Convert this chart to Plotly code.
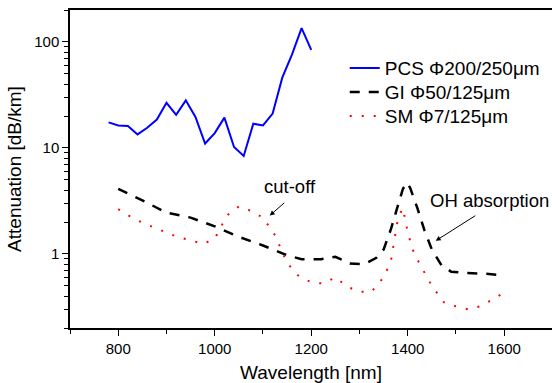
import math
import plotly.graph_objects as go

# ---- data ----
pcs_wl = [780, 800, 820, 840, 860, 880, 900, 920, 940, 960, 980, 1000, 1020, 1040,
          1060, 1080, 1100, 1120, 1140, 1160, 1180, 1200]
pcs_att = [17.4, 16.3, 16.1, 13.4, 15.5, 18.5, 26.6, 20.5, 28.1, 19.6, 11.0, 13.8, 19.3,
           10.2, 8.4, 16.9, 16.3, 21.1, 46, 76, 135, 84]

gi_wl = [800, 850, 900, 950, 1000, 1050, 1100, 1150, 1180, 1220, 1250, 1280, 1310, 1335,
         1350, 1365, 1380, 1390, 1398, 1405, 1420, 1435, 1450, 1470, 1490, 1520, 1560, 1592]
gi_att = [4.1, 3.2, 2.45, 2.2, 1.82, 1.45, 1.2, 0.97, 0.89, 0.89, 0.94, 0.81, 0.80, 0.92,
          1.1, 1.7, 2.9, 4.1, 4.7, 4.2, 2.7, 1.65, 1.1, 0.78, 0.68, 0.66, 0.65, 0.63]

sm_wl = [800, 825, 850, 875, 900, 925, 950, 975, 1000, 1025, 1050, 1075, 1100, 1125, 1150,
         1175, 1200, 1225, 1250, 1275, 1300, 1325, 1350, 1365, 1380, 1390, 1400, 1410, 1425,
         1450, 1475, 1500, 1525, 1550, 1575, 1600]
sm_att = [2.64, 2.25, 1.97, 1.77, 1.59, 1.43, 1.35, 1.24, 1.39, 2.3, 2.8, 2.55, 2.2, 1.5, 0.82,
          0.61, 0.54, 0.525, 0.60, 0.49, 0.44, 0.44, 0.6, 0.85, 2.2, 2.7, 1.6, 1.1, 0.8,
          0.5, 0.35, 0.32, 0.30, 0.32, 0.37, 0.43]

names = ["PCS \u03a6200/250\u03bcm", "GI \u03a650/125\u03bcm", "SM \u03a67/125\u03bcm"]

x_ticks = [800, 1000, 1200, 1400, 1600]
y_ticks = [1, 10, 100]
y_minor = [0.2, 0.3, 0.4, 0.5, 0.6, 0.7, 0.8, 0.9,
           2, 3, 4, 5, 6, 7, 8, 9,
           20, 30, 40, 50, 60, 70, 80, 90, 200]

# annotation anchors (wavelength, attenuation)
cutoff_text = (1156, 4.3)
cutoff_tip = (1114, 2.3)
oh_text = (1570, 3.16)
oh_tip = (1458, 1.33)

FONT = "Arial, Liberation Sans, sans-serif"

fig = go.Figure()
fig.add_trace(go.Scatter(x=pcs_wl, y=pcs_att, mode="lines", name=names[0], legend="legend",
                         line=dict(color="#0000ff", width=2)))
fig.add_trace(go.Scatter(x=gi_wl, y=gi_att, mode="lines", name=names[1], legend="legend2",
                         line=dict(color="black", width=2.5, dash="10px,9px")))
fig.add_trace(go.Scatter(x=sm_wl, y=sm_att, mode="lines", name=names[2], legend="legend3",
                         line=dict(color="#ff0000", width=2, dash="2px,10px")))

# annotations (log axis: y in log10 units)
fig.add_annotation(x=cutoff_text[0], y=math.log10(cutoff_text[1]), text="cut-off",
                   showarrow=False, font=dict(size=18.5, color="black", family=FONT))
fig.add_annotation(x=cutoff_tip[0], y=math.log10(cutoff_tip[1]), text="", showarrow=True,
                   ax=16, ay=-14, arrowhead=2, arrowsize=1, arrowwidth=1, arrowcolor="black")
fig.add_annotation(x=oh_text[0], y=math.log10(oh_text[1]), text="OH absorption",
                   showarrow=False, font=dict(size=18.5, color="black", family=FONT))
fig.add_annotation(x=oh_tip[0], y=math.log10(oh_tip[1]), text="", showarrow=True,
                   ax=41, ay=-26, arrowhead=2, arrowsize=1, arrowwidth=1, arrowcolor="black")

legend_style = dict(x=0.570, xanchor="left", yanchor="middle",
                    font=dict(size=19, family=FONT), bgcolor="rgba(0,0,0,0)")

fig.update_layout(
    width=552, height=383,
    margin=dict(l=70, r=0, t=10, b=55),
    paper_bgcolor="white", plot_bgcolor="white",
    font=dict(family=FONT, color="black", size=15),
    showlegend=True,
    legend=dict(y=0.8175, **legend_style),
    legend2=dict(y=0.7420, **legend_style),
    legend3=dict(y=0.6660, **legend_style),
    xaxis=dict(range=[700, 1699], tickvals=x_ticks, ticktext=[str(v) for v in x_ticks],
               ticks="outside", ticklen=6, tickwidth=1, tickcolor="black",
               minor=dict(dtick=100, tick0=700, ticks="outside", ticklen=4, tickcolor="black"),
               showline=True, linecolor="black", linewidth=1.5, mirror=True,
               showgrid=False, zeroline=False,
               title=dict(text="Wavelength [nm]", font=dict(size=19), standoff=12),
               tickfont=dict(size=15)),
    yaxis=dict(type="log", range=[-0.699, 2.301], tickvals=y_ticks,
               ticktext=[str(v) for v in y_ticks],
               ticks="outside", ticklen=6, tickwidth=1, tickcolor="black",
               minor=dict(tickvals=y_minor, ticks="outside", ticklen=4, tickcolor="black",
                          showgrid=False),
               showline=True, linecolor="black", linewidth=1.5, mirror=False,
               showgrid=False, zeroline=False,
               title=dict(text="Attenuation [dB/km]", font=dict(size=19), standoff=8),
               tickfont=dict(size=15)),
)

fig.write_html("out.html")
